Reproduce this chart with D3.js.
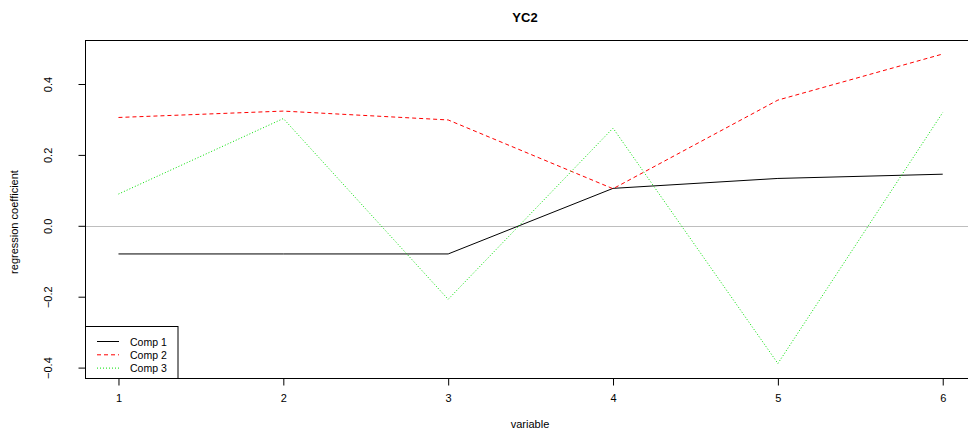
<!DOCTYPE html>
<html><head><meta charset="utf-8">
<script src="https://cdn.jsdelivr.net/npm/d3@7"></script>
<style>body{margin:0;background:#fff}svg{display:block;font-family:"Liberation Sans",Arial,sans-serif}</style>
</head><body>
<svg id="c" width="968" height="434"></svg>
<script>
const variables = [1, 2, 3, 4, 5, 6];
const comp1 = [-0.078, -0.078, -0.078, 0.107, 0.135, 0.147];
const comp2 = [0.307, 0.325, 0.300, 0.106, 0.356, 0.486];
const comp3 = [0.091, 0.304, -0.206, 0.277, -0.387, 0.321];
const seriesNames = ["Comp 1", "Comp 2", "Comp 3"];
const seriesColors = ["#000000", "#FF0000", "#00E000"];
const seriesDash = [null, "4,3", "1,2"];
const yTicks = [-0.4, -0.2, 0.0, 0.2, 0.4];
const title = "YC2";

const svg = d3.select("#c");
const x = d3.scaleLinear().domain([0.8, 6.2]).range([85.5, 975.7]);
const y = d3.scaleLinear().domain([0, 0.4]).range([226.3, 84.5]);
const boxTop = 40.5, boxBottom = 378.5;

// zero line
svg.append("line").attr("x1", 85.5).attr("x2", 968).attr("y1", Math.round(y(0)) + 0.5).attr("y2", Math.round(y(0)) + 0.5)
  .attr("stroke", "#bebebe").attr("stroke-width", 1);

const series = [comp1, comp2, comp3];
const line = d3.line().x((d, i) => x(variables[i])).y(d => y(d));
series.forEach((s, k) => {
  svg.append("path").datum(s).attr("d", line).attr("fill", "none")
    .attr("stroke", seriesColors[k]).attr("stroke-width", 1)
    .attr("stroke-dasharray", seriesDash[k]);
});

// box
svg.append("rect").attr("x", 85.5).attr("y", boxTop).attr("width", 975.7 - 85.5).attr("height", boxBottom - boxTop)
  .attr("fill", "none").attr("stroke", "#000").attr("stroke-width", 1);

// x axis
const xAxis = d3.axisBottom(x).tickValues(variables).tickFormat(d3.format("d")).tickSize(7).tickPadding(9);
const gx = svg.append("g").attr("transform", `translate(0,${boxBottom})`).call(xAxis);
gx.select(".domain").remove();
gx.selectAll("text").attr("font-size", 11).attr("fill", "#000").attr("font-family", "Liberation Sans, Arial, sans-serif");

// y axis
const yAxis = d3.axisLeft(y).tickValues(yTicks).tickFormat(d3.format(".1f")).tickSize(7).tickPadding(0);
const gy = svg.append("g").attr("transform", `translate(85.5,0)`).call(yAxis);
gy.select(".domain").remove();
gy.selectAll(".tick").attr("transform", null);
gy.selectAll(".tick line").attr("y1", d => y(d)).attr("y2", d => y(d));
gy.selectAll("text").attr("font-size", 11).attr("fill", "#000").attr("font-family", "Liberation Sans, Arial, sans-serif")
  .attr("text-anchor", "middle").attr("x", 0).attr("y", 0).attr("dy", null)
  .attr("transform", d => `translate(-37.5,${y(d)}) rotate(-90)`)
  .attr("dominant-baseline", "central");

// labels
svg.append("text").attr("x", 525).attr("y", 22).attr("text-anchor", "middle").attr("font-size", 13)
  .attr("font-weight", "bold").text(title);
svg.append("text").attr("x", 530).attr("y", 428).attr("text-anchor", "middle").attr("font-size", 11).text("variable");
svg.append("text").attr("transform", "translate(18,222) rotate(-90)").attr("text-anchor", "middle")
  .attr("font-size", 11).text("regression coefficient");

// legend
const lg = svg.append("g");
lg.append("rect").attr("x", 85.5).attr("y", 326.5).attr("width", 92.5).attr("height", 52).attr("fill", "#fff")
  .attr("stroke", "#000").attr("stroke-width", 1);
seriesNames.forEach((n, k) => {
  const yy = 341.5 + k * 13.3;
  lg.append("line").attr("x1", 97).attr("x2", 119).attr("y1", yy).attr("y2", yy)
    .attr("stroke", seriesColors[k]).attr("stroke-dasharray", seriesDash[k]);
  lg.append("text").attr("x", 130).attr("y", yy).attr("dominant-baseline", "central").attr("font-size", 10.5).text(n);
});
</script>
</body></html>
